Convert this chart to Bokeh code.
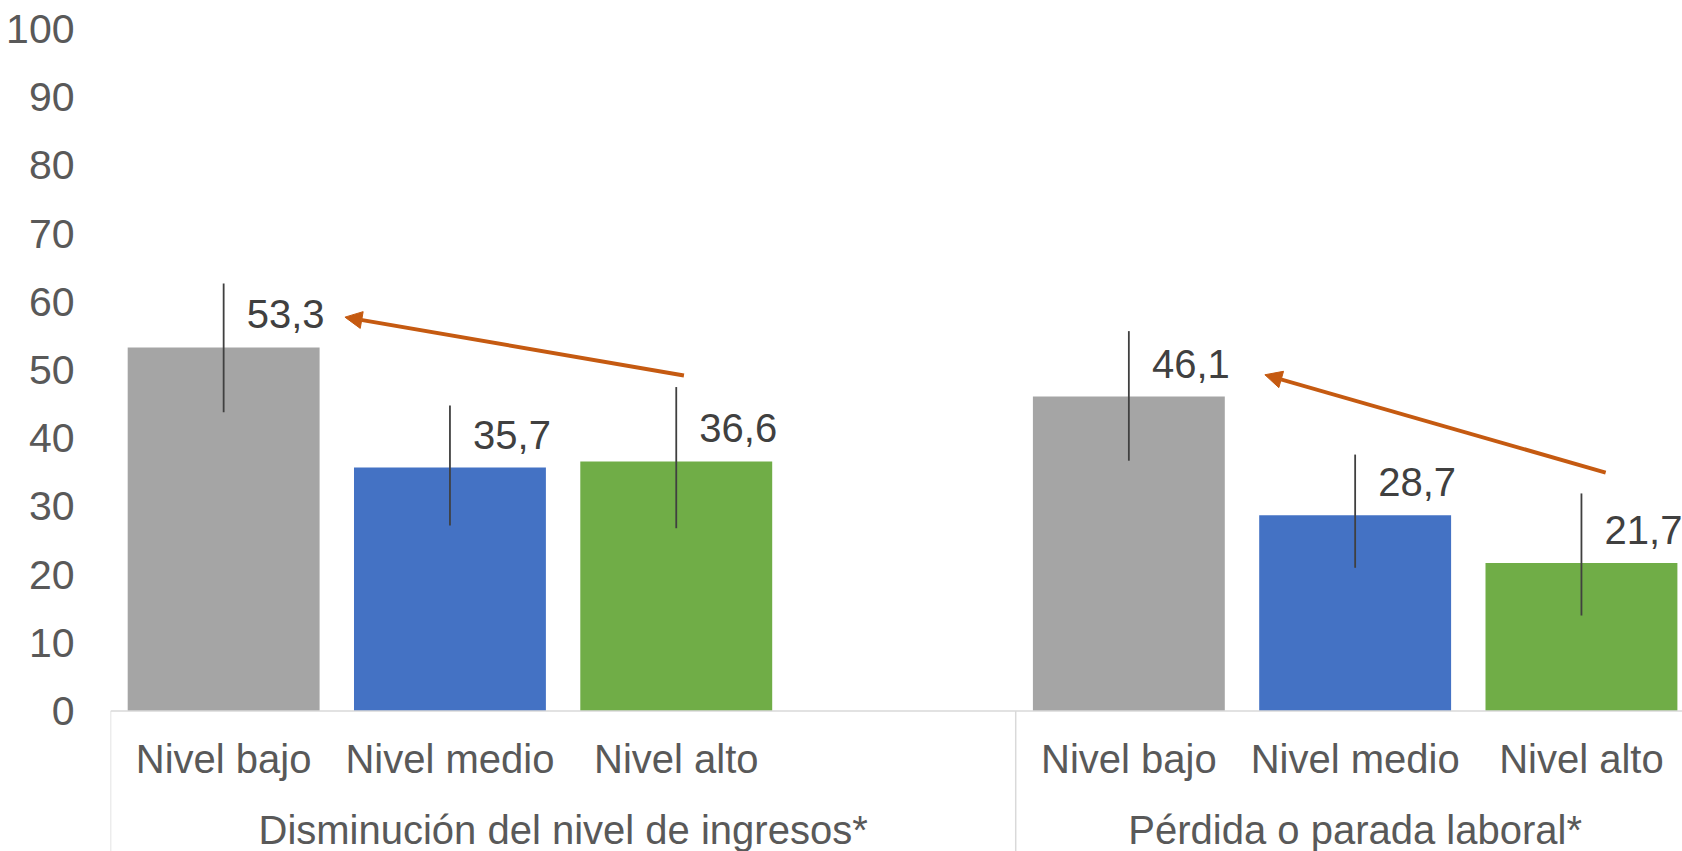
from bokeh.plotting import figure
from bokeh.models import Range1d, FixedTicker, Arrow, NormalHead, ColumnDataSource
from bokeh.core.properties import value
from bokeh.embed import file_html
from bokeh.resources import INLINE

# ---- data ----
groups = ["Disminución del nivel de ingresos*", "Pérdida o parada laboral*"]
levels = ["Nivel bajo", "Nivel medio", "Nivel alto"]
values_ingresos = [53.3, 35.7, 36.6]
values_laboral = [46.1, 28.7, 21.7]
lower_ingresos = [43.8, 27.2, 26.8]
upper_ingresos = [62.7, 44.8, 47.5]
lower_laboral = [36.7, 21.0, 14.0]
upper_laboral = [55.7, 37.6, 31.9]
y_ticks = list(range(0, 101, 10))
# trend arrows (annotation): from "Nivel alto" to "Nivel bajo" in each group
arrow_x_start = [2.534, 6.607]
arrow_y_start = [49.2, 34.95]
arrow_x_end = [1.036, 5.101]
arrow_y_end = [57.75, 49.3]

# ---- layout constants ----
group_start = [0, 4]       # slot index where each group begins
group_span = [4, 3]        # number of slots in each group
colors = ["#A5A5A5", "#4472C4", "#70AD47"]
FONT = "Liberation Sans"
FS = "40px"
FS_TICK = "41px"

xs, tops, lows, highs, cols, labs, cats = [], [], [], [], [], [], []
series = [(values_ingresos, lower_ingresos, upper_ingresos),
          (values_laboral, lower_laboral, upper_laboral)]
for g, (vals, lo, hi) in enumerate(series):
    for i, lvl in enumerate(levels):
        xs.append(group_start[g] + i + 0.5)
        tops.append(vals[i])
        lows.append(lo[i])
        highs.append(hi[i])
        cols.append(colors[i])
        labs.append(f"{vals[i]:.1f}".replace(".", ","))
        cats.append(lvl)

src = ColumnDataSource(dict(x=xs, top=tops, lo=lows, hi=highs, color=cols, lab=labs, cat=cats))

W, H = 1682, 851
LEFT = 110
SLOT = 226.3
PPU = 6.82
ZERO = 710.5
x_end = (W - LEFT) / SLOT
y_top = ZERO / PPU
y_bot = (ZERO - H) / PPU
p = figure(width=W, height=H, output_backend="svg", toolbar_location=None,
           x_range=Range1d(0, x_end), y_range=Range1d(y_bot, y_top),
           min_border_left=LEFT, min_border_right=0, min_border_top=0, min_border_bottom=0)
p.outline_line_color = None
p.xgrid.visible = False
p.ygrid.visible = False
p.xaxis.visible = False
p.background_fill_color = "white"
p.border_fill_color = "white"

ya = p.yaxis[0]
ya.ticker = FixedTicker(ticks=y_ticks)
ya.axis_line_color = None
ya.major_tick_line_color = None
ya.minor_tick_line_color = None
ya.major_tick_out = 0
ya.major_tick_in = 0
ya.major_label_standoff = 36
ya.major_label_text_font = FONT
ya.major_label_text_font_size = FS_TICK
ya.major_label_text_color = "#595959"

# bars
p.vbar(x="x", top="top", width=0.848, bottom=0, color="color", line_color=None, source=src)
# error bars
p.segment(x0="x", y0="lo", x1="x", y1="hi", line_color="#404040", line_width=1.8, source=src)
# data labels
p.text(x="x", y="top", text="lab", source=src, x_offset=62, y_offset=-33,
       text_font=value(FONT), text_font_size=FS, text_color="#404040",
       text_align="center", text_baseline="middle")

# category axis lines
p.segment(x0=[0], y0=[0], x1=[x_end], y1=[0], line_color="#D9D9D9", line_width=1.5)
p.segment(x0=group_start, y0=[0, 0], x1=group_start, y1=[y_bot, y_bot],
          line_color="#D9D9D9", line_width=1.5)

# category labels
p.text(x="x", y=-7.1, text="cat", source=src,
       text_font=value(FONT), text_font_size=FS, text_color="#595959",
       text_align="center", text_baseline="middle")
gx = [group_start[g] + group_span[g] / 2 for g in range(len(groups))]
p.text(x=gx, y=[-17.5] * len(groups), text=groups,
       text_font=value(FONT), text_font_size=FS, text_color="#595959",
       text_align="center", text_baseline="middle")

# arrows
for a in range(len(arrow_x_start)):
    p.add_layout(Arrow(x_start=arrow_x_start[a], y_start=arrow_y_start[a],
                       x_end=arrow_x_end[a], y_end=arrow_y_end[a],
                       line_color="#C55A11", line_width=4,
                       end=NormalHead(size=17, fill_color="#C55A11", line_color="#C55A11")))

open("out.html", "w").write(file_html(p, INLINE))
